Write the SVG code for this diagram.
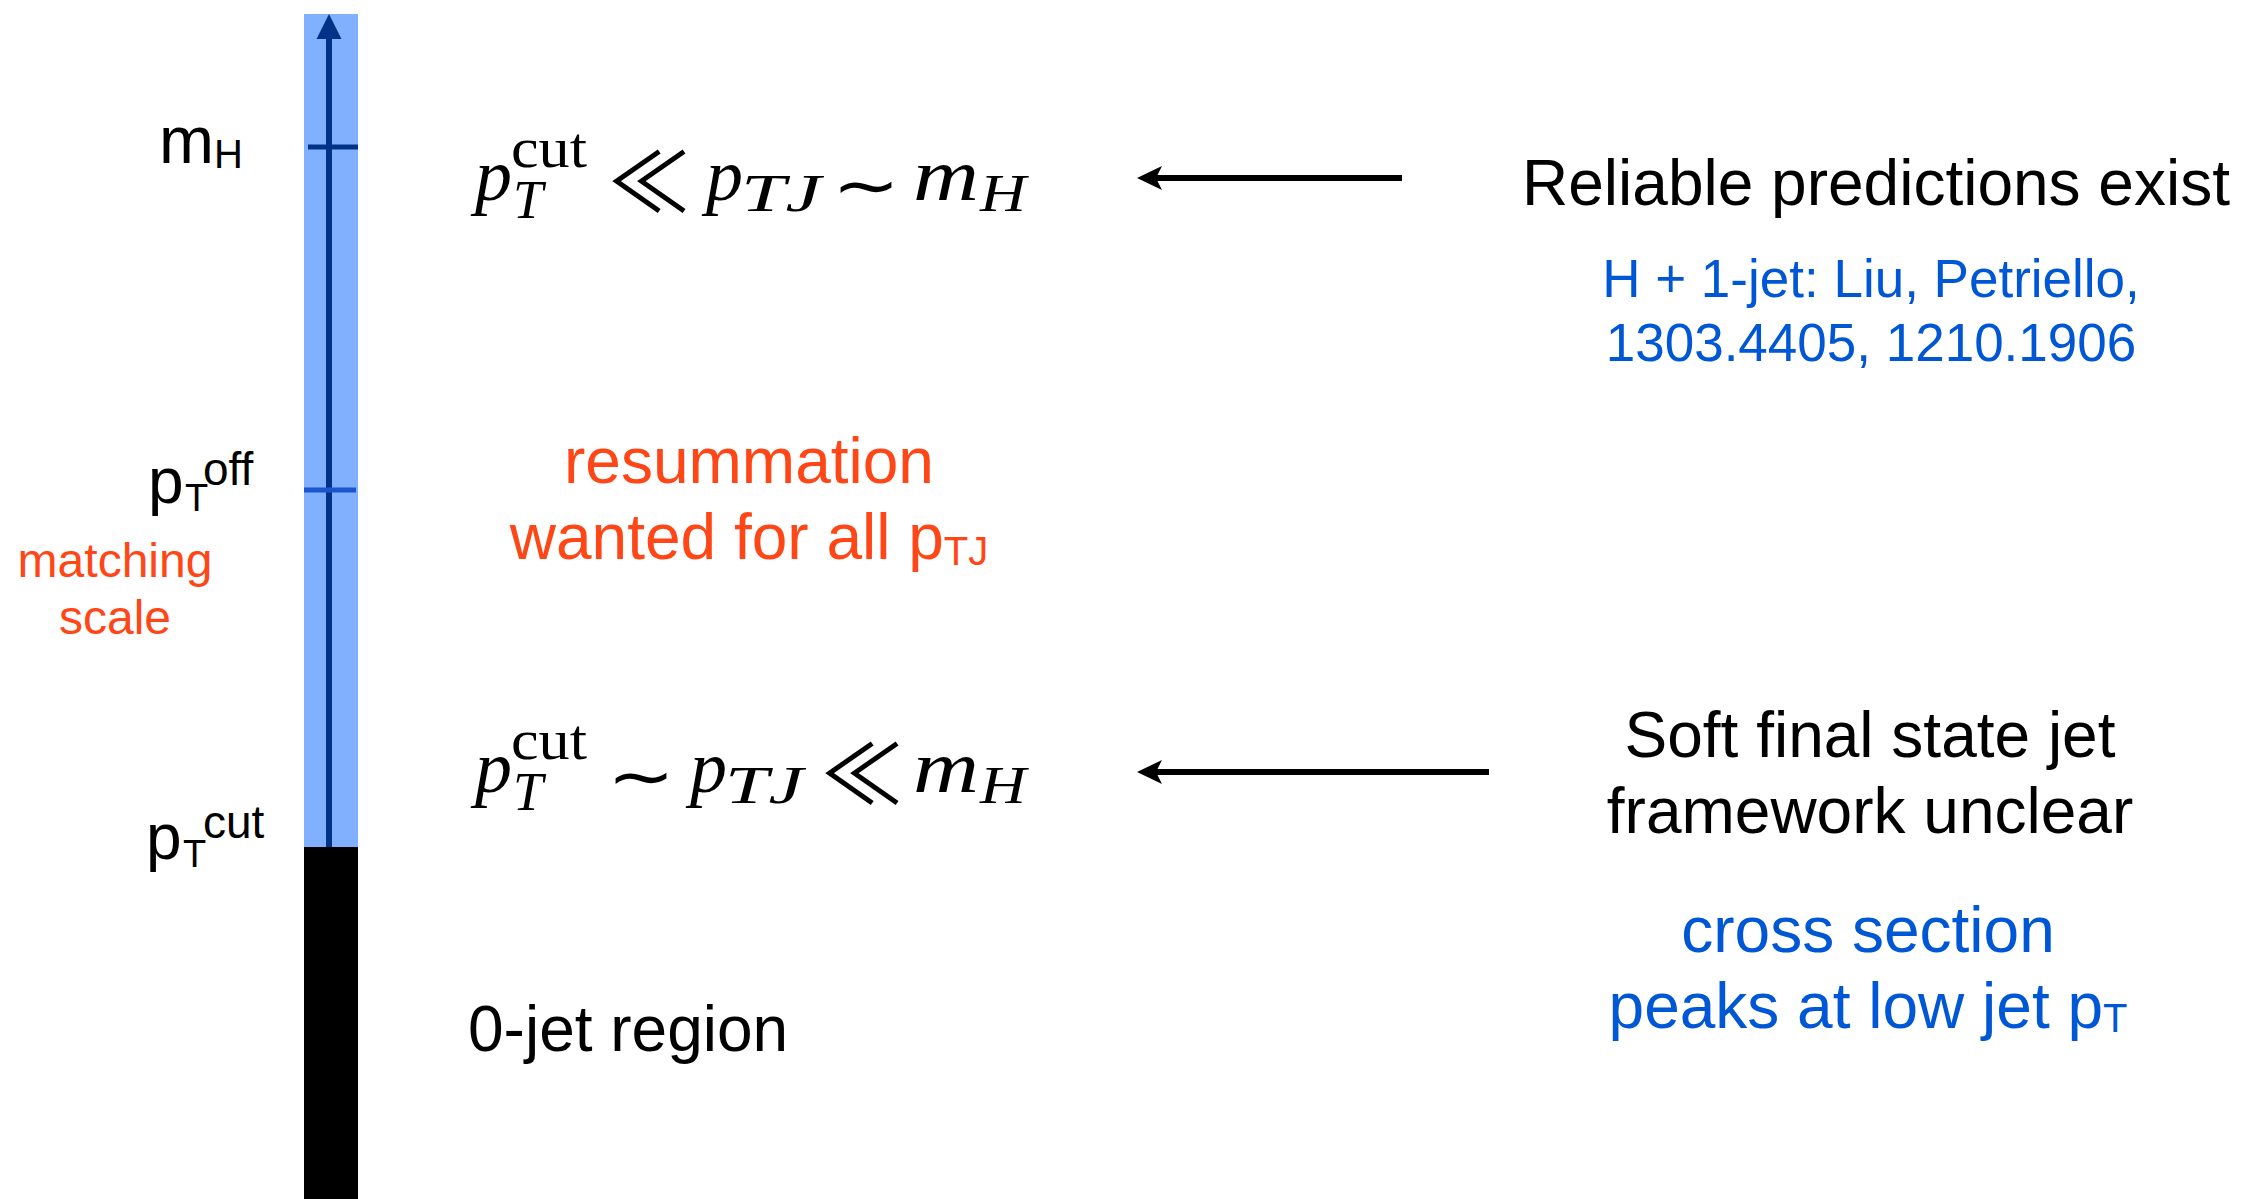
<svg xmlns="http://www.w3.org/2000/svg" width="2249" height="1199" viewBox="0 0 2249 1199">
<defs>
<style>
.sans{font-family:"Liberation Sans",Arial,sans-serif;}
.blk{fill:#000;}
.red{fill:#ff4616;}
.blue{fill:#0057d6;}
.mi{font-family:"Liberation Serif","Times New Roman",serif;font-style:italic;fill:#000;}
.mr{font-family:"Liberation Serif","Times New Roman",serif;fill:#000;}
.op{font-family:"Noto Sans CJK JP","DejaVu Sans",sans-serif;fill:#000;}
.tl{font-family:"DejaVu Sans",sans-serif;fill:#000;}
.conn{stroke:#000;stroke-width:6;fill:none;}
</style>
<marker id="ah" viewBox="0 0 25 24" refX="12" refY="12" markerWidth="25" markerHeight="24" markerUnits="userSpaceOnUse" orient="auto">
<path d="M0,0 L25,12 L0,24 L6,12 Z" fill="#000"/>
</marker>
</defs>
<rect width="2249" height="1199" fill="#fff"/>

<g id="scale-bar">
<rect x="304" y="14" width="54" height="834" fill="#80b0ff"/>
<rect x="304" y="847" width="54" height="352" fill="#000"/>
<line x1="329" y1="847" x2="329" y2="34" stroke="#003388" stroke-width="6"/>
<polygon points="329,14 316.5,39 341.5,39" fill="#003388"/>
<line x1="308" y1="147" x2="358" y2="147" stroke="#003388" stroke-width="5"/>
<line x1="304" y1="490" x2="356" y2="490" stroke="#1a55cc" stroke-width="5"/>
</g>

<g id="label-mH" class="sans blk">
<text x="159" y="163" font-size="66">m<tspan font-size="40" dy="5">H</tspan></text>
</g>
<g id="label-pToff" class="sans blk">
<text x="148" y="503" font-size="64">p</text>
<text x="185" y="511" font-size="38">T</text>
<text x="203" y="485" font-size="46">off</text>
</g>
<g id="label-matching" class="sans red">
<text x="115" y="577" font-size="48" text-anchor="middle">matching</text>
<text x="115" y="634" font-size="48" text-anchor="middle">scale</text>
</g>
<g id="label-pTcut" class="sans blk">
<text x="146" y="859" font-size="64">p</text>
<text x="183" y="867" font-size="38">T</text>
<text x="203" y="838" font-size="46">cut</text>
</g>

<g id="formula-top">
<text class="mi" x="475" y="200" font-size="74">p</text>
<text class="mr" x="511" y="167" font-size="56" textLength="76" lengthAdjust="spacingAndGlyphs">cut</text>
<text class="mi" x="513" y="218" font-size="54">T</text>
<text class="op" x="649" y="212" font-size="82" text-anchor="middle">≪</text>
<text class="mi" x="706" y="200" font-size="74">p</text>
<text class="mi" x="741" y="211" font-size="52" textLength="80" lengthAdjust="spacingAndGlyphs">TJ</text>
<text class="tl" x="866" y="208" font-size="66" text-anchor="middle" textLength="68" lengthAdjust="spacingAndGlyphs">∼</text>
<text class="mi" x="913" y="200" font-size="74" textLength="66" lengthAdjust="spacingAndGlyphs">m</text>
<text class="mi" x="980" y="211" font-size="52" textLength="46" lengthAdjust="spacingAndGlyphs">H</text>
</g>

<g id="formula-bottom">
<text class="mi" x="475" y="792" font-size="74">p</text>
<text class="mr" x="511" y="759" font-size="56" textLength="76" lengthAdjust="spacingAndGlyphs">cut</text>
<text class="mi" x="513" y="810" font-size="54">T</text>
<text class="tl" x="641" y="799" font-size="66" text-anchor="middle" textLength="68" lengthAdjust="spacingAndGlyphs">∼</text>
<text class="mi" x="690" y="792" font-size="74">p</text>
<text class="mi" x="725" y="803" font-size="52" textLength="78" lengthAdjust="spacingAndGlyphs">TJ</text>
<text class="op" x="862" y="804" font-size="82" text-anchor="middle">≪</text>
<text class="mi" x="913" y="792" font-size="74" textLength="66" lengthAdjust="spacingAndGlyphs">m</text>
<text class="mi" x="980" y="803" font-size="52" textLength="46" lengthAdjust="spacingAndGlyphs">H</text>
</g>

<g id="label-resummation" class="sans red">
<text x="749" y="483" font-size="64" text-anchor="middle">resummation</text>
<text x="749" y="559" font-size="64" text-anchor="middle">wanted for all p<tspan font-size="40" dy="6">TJ</tspan></text>
</g>

<g id="label-0jet" class="sans blk">
<text x="468" y="1051" font-size="64">0-jet region</text>
</g>

<g id="label-reliable" class="sans">
<text class="blk" x="1876" y="205" font-size="64" text-anchor="middle">Reliable predictions exist</text>
<text class="blue" x="1871" y="297" font-size="53" text-anchor="middle">H + 1-jet: Liu, Petriello,</text>
<text class="blue" x="1871" y="361" font-size="53" text-anchor="middle">1303.4405, 1210.1906</text>
</g>

<g id="label-soft" class="sans">
<text class="blk" x="1870" y="757" font-size="64" text-anchor="middle">Soft final state jet</text>
<text class="blk" x="1870" y="833" font-size="64" text-anchor="middle">framework unclear</text>
<text class="blue" x="1868" y="952" font-size="64" text-anchor="middle">cross section</text>
<text class="blue" x="1868" y="1028" font-size="64" text-anchor="middle">peaks at low jet p<tspan font-size="40" dy="4">T</tspan></text>
</g>

<g id="connectors">
<line class="conn" x1="1402" y1="178" x2="1150" y2="178" marker-end="url(#ah)"/>
<line class="conn" x1="1489" y1="772" x2="1150" y2="772" marker-end="url(#ah)"/>
</g>
</svg>
